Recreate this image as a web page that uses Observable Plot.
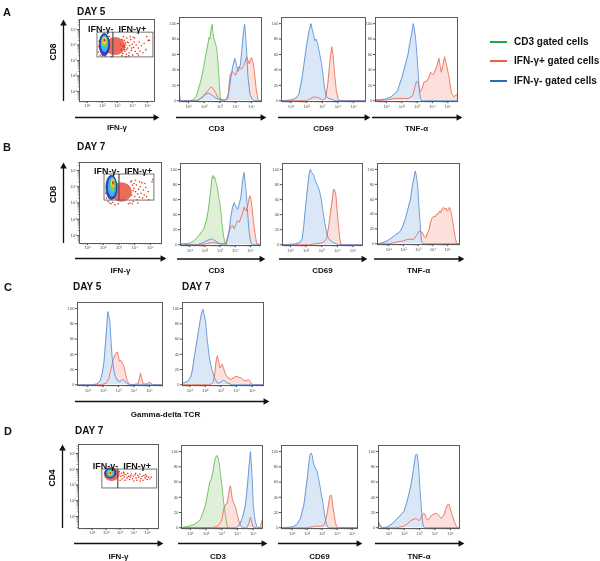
<!DOCTYPE html>
<html><head><meta charset="utf-8">
<script src="https://cdn.jsdelivr.net/npm/d3@7"></script>
<script src="https://cdn.jsdelivr.net/npm/@observablehq/plot@0.6"></script>
<style>
html,body{margin:0;padding:0;background:#fff;}
#fig{position:relative;width:600px;height:561px;overflow:hidden;font-family:'Liberation Sans',Arial,Helvetica,sans-serif;color:#111;background:#fff;}
.t{position:absolute;font-weight:bold;line-height:1;white-space:nowrap;}
.sw{position:absolute;height:2px;width:17px;}
</style></head><body><div id="fig"></div>
<script>
const FONT = "'Liberation Sans', Arial, Helvetica, sans-serif";

// ---------- tick labels / categories ----------
const decades = [1, 2, 3, 4, 5];
const SUP = {1: "¹", 2: "²", 3: "³", 4: "⁴", 5: "⁵"};
const countTicks = [0, 20, 40, 60, 80, 100];
const markerTitles = ["CD3", "CD69", "TNF-α"];
const gateLabels = ["IFN-γ-", "IFN-γ+"];
const legendLabels = ["CD3 gated cells", "IFN-γ+ gated cells", "IFN-γ- gated cells"];
const legendKeys = ["green", "red", "blue"];

// ---------- histogram series: [log10 intensity, % of max] ----------
// Panel A (day 5)
const a_cd3_green = [[1.0,0],[1.3,1],[1.5,6],[1.76,24],[1.95,42],[2.08,57],[2.2,70],[2.3,82],[2.36,80],[2.43,92],[2.5,99],[2.55,88],[2.6,82],[2.7,75],[2.78,69],[2.86,52],[2.93,31],[3.0,8],[3.03,2],[3.1,0]];
const a_cd3_red = [[0.43,10],[0.46,2],[0.55,0],[1.5,0],[1.66,1],[1.9,6],[2.15,11],[2.3,15],[2.44,18],[2.55,16],[2.7,11],[2.85,5],[3.0,2],[3.3,1],[3.5,3],[3.63,33],[3.78,38],[3.9,35],[3.99,33],[4.1,40],[4.2,44],[4.35,41],[4.52,46],[4.69,57],[4.78,52],[4.86,48],[4.93,53],[5.0,56],[5.08,50],[5.15,42],[5.3,14],[5.42,0],[5.63,0]];
const a_cd3_blue = [[0.43,0],[1.5,0],[1.8,3],[2.05,8],[2.25,10],[2.45,8],[2.7,4],[3.0,1],[3.4,1],[3.55,10],[3.67,27],[3.8,44],[3.94,55],[4.05,46],[4.15,38],[4.22,42],[4.3,48],[4.38,65],[4.45,82],[4.56,99],[4.62,86],[4.67,70],[4.77,31],[4.9,8],[5.04,2],[5.15,0],[5.63,0]];
const a_cd69_blue = [[0.4,0],[1.0,1],[1.3,3],[1.5,8],[1.7,28],[1.85,50],[2.0,72],[2.15,90],[2.28,100],[2.36,92],[2.46,84],[2.52,78],[2.6,80],[2.7,74],[2.82,62],[2.95,48],[3.05,32],[3.15,15],[3.25,6],[3.4,3],[3.6,2],[3.8,0],[5.75,0]];
const a_cd69_red = [[0.4,0],[2.0,0],[2.25,3],[2.5,5],[2.75,4],[3.0,1],[3.2,3],[3.35,22],[3.48,50],[3.6,70],[3.68,60],[3.78,35],[3.9,12],[4.0,3],[4.1,0],[5.75,0]];
const a_tnf_blue = [[0.28,2],[0.5,1],[0.9,2],[1.3,5],[1.7,12],[2.0,30],[2.2,45],[2.4,60],[2.55,78],[2.65,88],[2.74,100],[2.8,95],[2.9,80],[2.98,60],[3.06,38],[3.13,15],[3.2,4],[3.3,0],[5.63,0]];
const a_tnf_red = [[0.28,0],[1.0,1],[1.5,3],[2.0,3],[2.4,3],[2.7,6],[2.85,18],[2.95,25],[3.05,24],[3.2,12],[3.3,15],[3.44,24],[3.66,26],[3.8,32],[3.88,37],[4.0,34],[4.1,35],[4.27,44],[4.42,55],[4.5,45],[4.57,37],[4.7,48],[4.79,57],[4.92,46],[5.07,31],[5.23,10],[5.4,5],[5.57,8],[5.63,6]];
// Panel B (day 7)
const b_cd3_green = [[0.39,1],[1.0,2],[1.26,5],[1.6,12],[1.92,21],[2.1,32],[2.25,50],[2.38,72],[2.47,89],[2.53,92],[2.58,88],[2.64,90],[2.69,85],[2.8,78],[2.92,62],[3.02,50],[3.12,28],[3.24,10],[3.35,1],[3.45,0]];
const b_cd3_red = [[0.39,0],[1.8,0],[2.2,2],[2.5,3],[2.8,2],[3.2,1],[3.4,3],[3.55,15],[3.7,23],[3.82,26],[3.93,21],[4.05,28],[4.15,32],[4.27,30],[4.37,36],[4.48,42],[4.58,50],[4.66,46],[4.73,45],[4.85,55],[4.95,65],[5.02,62],[5.1,50],[5.2,30],[5.3,15],[5.4,2],[5.66,0]];
const b_cd3_blue = [[0.39,0],[1.5,0],[1.9,3],[2.2,6],[2.45,8],[2.7,5],[3.0,1],[3.4,1],[3.55,12],[3.7,36],[3.82,50],[3.93,56],[4.05,50],[4.15,47],[4.27,55],[4.37,63],[4.48,85],[4.58,96],[4.66,80],[4.73,67],[4.82,40],[4.9,19],[5.0,5],[5.1,0],[5.66,0]];
const b_cd69_blue = [[0.49,0],[1.3,1],[1.6,3],[1.75,8],[1.85,25],[1.96,50],[2.1,78],[2.2,95],[2.27,100],[2.35,96],[2.48,93],[2.6,84],[2.7,80],[2.78,76],[2.86,71],[2.95,62],[3.05,48],[3.2,28],[3.32,15],[3.43,8],[3.6,5],[3.75,3],[3.95,1],[4.07,0],[5.6,0]];
const b_cd69_red = [[0.49,0],[2.2,0],[2.5,1],[2.9,2],[3.1,3],[3.3,8],[3.45,25],[3.55,41],[3.68,62],[3.76,74],[3.83,72],[3.9,66],[3.98,45],[4.07,24],[4.15,8],[4.22,0],[5.6,0]];
const b_tnf_blue = [[0.23,0],[0.5,1],[0.9,4],[1.34,10],[1.79,17],[1.95,24],[2.13,34],[2.3,47],[2.47,60],[2.6,78],[2.69,87],[2.8,98],[2.88,90],[2.96,78],[3.03,55],[3.1,34],[3.21,4],[3.3,0],[5.8,0]];
const b_tnf_red = [[0.23,0],[1.0,0],[1.5,2],[2.0,4],[2.3,6],[2.7,6],[2.9,12],[3.06,17],[3.18,16],[3.28,15],[3.4,10],[3.5,8],[3.62,14],[3.73,19],[3.85,30],[3.95,35],[4.05,37],[4.15,36],[4.22,39],[4.35,40],[4.45,44],[4.52,42],[4.62,47],[4.72,49],[4.8,46],[4.9,48],[4.97,44],[5.05,46],[5.12,49],[5.2,44],[5.3,35],[5.44,17],[5.52,8],[5.6,0],[5.8,0]];
// Panel C (gamma-delta TCR)
const c5_blue = [[0.33,0],[1.3,0],[1.6,1],[1.8,5],[1.94,15],[2.05,30],[2.15,55],[2.25,82],[2.3,96],[2.37,90],[2.43,83],[2.5,60],[2.58,35],[2.7,18],[2.8,10],[2.95,5],[3.08,4],[3.2,6],[3.3,7],[3.4,5],[3.51,2],[3.7,0],[5.85,0]];
const c5_red = [[0.33,0],[1.9,0],[2.2,2],[2.36,8],[2.5,20],[2.65,33],[2.78,40],[2.91,43],[2.98,38],[3.05,31],[3.15,32],[3.25,28],[3.35,24],[3.45,14],[3.55,6],[3.65,2],[3.8,0],[4.25,1],[4.35,8],[4.42,15],[4.5,8],[4.6,1],[4.85,1],[4.96,3],[5.1,2],[5.2,0],[5.85,0]];
const c7_blue = [[0.53,2],[0.7,3],[0.9,5],[1.05,10],[1.15,18],[1.3,38],[1.48,61],[1.6,76],[1.69,88],[1.78,96],[1.84,99],[1.92,92],[2.01,83],[2.1,62],[2.23,39],[2.35,25],[2.44,18],[2.6,8],[2.78,2],[2.95,3],[3.15,6],[3.3,4],[3.45,2],[3.7,0],[5.72,0]];
const c7_red = [[0.53,0],[2.3,0],[2.5,3],[2.6,15],[2.68,30],[2.76,38],[2.85,30],[2.93,22],[3.0,24],[3.08,27],[3.18,20],[3.3,13],[3.45,9],[3.62,7],[3.8,9],[3.95,11],[4.1,10],[4.28,9],[4.45,6],[4.6,5],[4.75,7],[4.85,5],[4.95,1],[5.05,0],[5.72,0]];
// Panel D (CD4, day 7)
const d_cd3_green = [[0.43,0],[0.9,2],[1.21,4],[1.45,7],[1.64,11],[1.8,20],[1.96,30],[2.1,45],[2.23,60],[2.32,63],[2.44,74],[2.52,85],[2.59,91],[2.65,94],[2.7,95],[2.76,92],[2.8,89],[2.9,72],[3.02,52],[3.12,32],[3.23,16],[3.3,6],[3.36,1],[3.45,0]];
const d_cd3_red = [[0.43,0],[2.4,0],[2.7,2],[2.9,6],[3.02,12],[3.12,25],[3.22,30],[3.34,32],[3.42,42],[3.5,52],[3.55,55],[3.6,48],[3.66,38],[3.75,33],[3.87,27],[3.97,18],[4.08,9],[4.2,3],[4.3,0],[4.6,0],[4.72,6],[4.82,14],[4.9,7],[4.98,1],[5.2,0],[5.45,0],[5.52,6],[5.59,12]];
const d_cd3_blue = [[0.43,0],[3.9,0],[4.05,2],[4.18,6],[4.29,12],[4.4,20],[4.5,30],[4.58,45],[4.65,60],[4.74,82],[4.82,100],[4.88,85],[4.94,60],[5.0,30],[5.08,15],[5.14,8],[5.22,2],[5.3,0],[5.59,0]];
const d_cd69_blue = [[0.29,0],[1.0,1],[1.3,4],[1.55,12],[1.78,30],[1.9,48],[2.0,64],[2.1,82],[2.18,95],[2.27,98],[2.33,95],[2.4,87],[2.5,80],[2.6,76],[2.67,74],[2.75,65],[2.84,56],[2.95,43],[3.07,30],[3.15,18],[3.22,10],[3.3,4],[3.4,0],[5.35,0]];
const d_cd69_red = [[0.29,0],[2.0,0],[2.3,1],[2.6,2],[2.9,2],[3.1,3],[3.22,9],[3.33,19],[3.42,30],[3.51,41],[3.57,43],[3.62,42],[3.7,30],[3.78,19],[3.87,8],[3.95,2],[4.05,0],[5.35,0]];
const d_tnf_blue = [[0.33,8],[0.45,3],[0.6,0],[0.9,1],[1.2,5],[1.55,12],[1.97,21],[2.15,32],[2.3,44],[2.45,58],[2.58,74],[2.66,86],[2.73,95],[2.8,97],[2.84,96],[2.9,86],[2.95,74],[3.0,56],[3.06,39],[3.12,22],[3.17,10],[3.23,3],[3.3,0],[5.58,0]];
const d_tnf_red = [[0.33,5],[0.45,1],[0.6,0],[1.5,0],[1.97,2],[2.2,5],[2.4,9],[2.58,11],[2.75,12],[2.85,11],[2.95,9],[3.05,12],[3.18,17],[3.25,19],[3.33,18],[3.42,13],[3.5,10],[3.62,12],[3.72,15],[3.83,17],[3.95,18],[4.05,19],[4.15,18],[4.28,15],[4.4,12],[4.5,15],[4.58,17],[4.68,24],[4.8,30],[4.9,31],[4.97,26],[5.05,20],[5.15,14],[5.25,8],[5.35,3],[5.45,0],[5.58,0]];

// ---------- dot plots: gates [x1,x2,y1,y2] (log10), density levels outer->inner, dense cloud, scattered events ----------
const a_gates = [[1.67,2.73,3.2,4.8],[2.73,5.4,3.2,4.8]];
const a_levels = [[1.82,2.5,3.28,4.72],[1.92,2.42,3.52,4.6],[1.98,2.36,3.84,4.55],[2.04,2.3,4.03,4.48],[2.1,2.23,4.16,4.39]];
const a_dense = [[2.2,3.55,3.32,4.48]];
const a_events = [[3.3,4.35],[3.35,3.45],[3.4,3.9],[3.45,4.3],[3.5,3.6],[3.55,4.0],[3.6,3.4],[3.62,4.45],[3.68,3.8],[3.72,4.15],[3.78,3.5],[3.82,3.95],[3.88,4.35],[3.92,3.65],[3.98,4.05],[4.02,3.35],[4.08,3.85],[4.12,4.2],[4.18,3.6],[4.25,4.0],[4.3,3.45],[4.38,3.8],[4.45,4.2],[4.5,3.6],[4.6,3.95],[4.7,3.5],[4.78,4.1],[4.9,3.7],[5.05,4.3],[5.13,4.3],[4.95,4.55],[3.4,4.55],[3.3,3.3],[3.58,3.25],[3.85,4.55],[4.15,4.45],[4.4,3.35],[3.5,3.85],[3.65,4.2],[3.75,3.3],[3.95,3.8],[4.05,4.5],[3.38,3.95],[3.25,3.7],[3.2,4.05],[3.45,3.7],[3.52,4.15],[3.6,3.7],[1.75,3.9],[1.72,3.55],[1.78,4.25],[1.85,3.35],[2.0,3.3],[2.2,3.28],[2.6,3.25],[2.45,4.55]];
const b_gates = [[2.08,3.03,3.15,4.75],[3.03,5.25,3.15,4.75]];
const b_levels = [[2.2,2.9,3.18,4.67],[2.33,2.84,3.35,4.59],[2.46,2.78,3.66,4.51],[2.52,2.73,3.97,4.45],[2.59,2.71,4.08,4.34]];
const b_dense = [[2.5,3.85,3.05,4.25]];
const b_events = [[3.95,3.9],[4.0,3.4],[4.05,3.7],[4.1,4.1],[4.15,3.2],[4.2,3.55],[4.25,3.85],[4.3,3.35],[4.35,4.0],[4.4,3.6],[4.5,3.3],[4.55,3.8],[4.6,3.5],[4.7,3.95],[4.75,3.4],[4.85,3.7],[5.1,4.3],[5.15,4.45],[3.9,3.1],[3.8,4.35],[4.05,4.4],[3.85,2.95],[4.2,3.0],[4.45,4.25],[2.2,3.3],[2.15,3.6],[2.3,3.1],[2.4,3.0],[2.6,3.05],[2.5,2.95],[3.7,3.0],[3.75,4.3],[4.9,3.2],[4.65,4.2],[3.95,4.2],[4.3,4.3],[3.8,3.5],[3.9,3.75],[3.85,4.1],[3.6,2.95],[2.75,2.9],[2.95,2.95]];
const d_gates = [[1.72,2.87,2.78,3.98],[2.87,5.68,2.78,3.98]];
const d_levels = [[1.94,2.73,3.42,4.05],[2.04,2.62,3.48,3.98],[2.15,2.51,3.54,3.92],[2.22,2.44,3.6,3.86],[2.26,2.4,3.67,3.79]];
const d_dense = [[1.86,3.0,3.22,4.08]];
const d_events = [[3.05,3.55],[3.1,3.75],[3.15,3.4],[3.2,3.6],[3.25,3.8],[3.3,3.5],[3.35,3.3],[3.42,3.65],[3.5,3.45],[3.55,3.75],[3.6,3.55],[3.68,3.35],[3.75,3.6],[3.82,3.7],[3.9,3.4],[3.95,3.55],[4.0,3.25],[4.08,3.65],[4.15,3.45],[4.2,3.3],[4.28,3.6],[4.35,3.5],[4.42,3.7],[4.5,3.4],[4.58,3.55],[4.65,3.3],[4.72,3.6],[4.8,3.45],[4.9,3.55],[4.95,3.35],[5.05,3.5],[5.15,3.4],[5.25,3.5],[3.0,3.3],[3.3,3.7],[3.72,3.5],[4.12,3.75],[4.45,3.25],[4.85,3.65],[2.95,3.85]];

// ---------- styles ----------
const LINE = {green: "#6cbf5a", red: "#ec6e58", blue: "#5c92d6"};
const FILL = {green: "#e0f0d8", red: "#fbe0db", blue: "#dae7f7"};
const LEGEND_COLORS = {green: "#1fa84a", red: "#f0603e", blue: "#2c6bb3"};
const LEVEL_COLORS = ["#2a4bd0", "#3cb8ec", "#7cd04a", "#f3de2c", "#e5331d"];
const EVENT_COLOR = "#e8321c";
const INK = "#111";

const fig = document.getElementById("fig");
function place(node, left, top) {
  node.style.position = "absolute";
  node.style.left = left + "px";
  node.style.top = top + "px";
  fig.appendChild(node);
}
function label(text, left, centerY, size) {
  const d = document.createElement("div");
  d.className = "t";
  d.textContent = text;
  d.style.fontSize = size + "px";
  place(d, left, centerY - 0.49 * size);
}
function minorTicks(dom) {
  const out = [];
  for (let d = 0; d <= 5; d++) for (let k = 1; k <= 9; k++) {
    const v = d + Math.log10(k);
    if (v >= dom[0] && v <= dom[1]) out.push(v);
  }
  return out;
}
const supFmt = d => "10" + SUP[d];

function xArrow(ymin, dy, extL, extR) {
  return [
    Plot.ruleY([ymin], {dy, insetLeft: -extL, insetRight: -extR, stroke: INK, strokeWidth: 1.3}),
    Plot.dot([0], {frameAnchor: "bottom-right", dx: extR, dy, symbol: "triangle", r: 2.5, rotate: 90, fill: INK})
  ];
}
function xTitle(t, dy, dx = 0) {
  return Plot.text([t], {frameAnchor: "bottom", dx, dy, text: d => d, lineAnchor: "middle", fontSize: 8, fontWeight: "bold", fill: INK, fontFamily: FONT});
}

function hist(p) {
  const [L, T, R, B] = p.frame;
  const ml = 14, mt = 3, mr = p.mr ?? 4, mb = 36;
  const ydom = [-1, 108];
  const marks = [];
  for (const s of p.series) marks.push(Plot.areaY(s.data, {x: d => d[0], y: d => d[1], fill: FILL[s.c], mixBlendMode: "multiply", curve: "linear", clip: true}));
  for (const s of p.series) marks.push(Plot.lineY(s.data, {x: d => d[0], y: d => d[1], stroke: LINE[s.c], strokeWidth: 0.9, curve: "linear", clip: true}));
  marks.push(Plot.frame({stroke: "#4d4d4d", strokeWidth: 0.9}));
  marks.push(Plot.axisX(minorTicks(p.xdom), {tickSize: 1.4, tickFormat: () => "", label: null, stroke: "#555", strokeWidth: 0.6}));
  marks.push(Plot.axisX(decades.filter(d => d >= p.xdom[0] && d <= p.xdom[1]), {tickSize: 2.2, tickPadding: 0.8, tickFormat: supFmt, fontSize: 4.3, fill: "#555", stroke: "#555", label: null, fontFamily: FONT}));
  marks.push(Plot.axisY(countTicks, {tickSize: 2, tickPadding: 1, fontSize: 4.3, fill: "#555", stroke: "#555", label: null, fontFamily: FONT}));
  if (p.arrowDy) marks.push(...xArrow(ydom[0], p.arrowDy, p.extL ?? 3, p.extR ?? 1));
  if (p.title) marks.push(xTitle(p.title, p.titleDy, p.titleDx ?? 0));
  const svg = Plot.plot({
    width: (R - L) + ml + mr, height: (B - T) + mt + mb,
    marginLeft: ml, marginRight: mr, marginTop: mt, marginBottom: mb,
    style: {background: "transparent", overflow: "visible", fontFamily: FONT},
    x: {domain: p.xdom}, y: {domain: ydom},
    marks
  });
  place(svg, L - ml, T - mt);
}

function dotPlot(p) {
  const [L, T, R, B] = p.frame;
  const ml = 34, mt = 3, mr = 4, mb = 36;
  const rect = (data, o) => Plot.rect(data, {x1: d => d[0], x2: d => d[1], y1: d => d[2], y2: d => d[3], ...o});
  const marks = [
    Plot.frame({stroke: "#4d4d4d", strokeWidth: 0.9}),
    Plot.axisX(minorTicks(p.xdom), {tickSize: 1.3, tickFormat: () => "", label: null, stroke: "#555", strokeWidth: 0.6}),
    Plot.axisX(decades, {tickSize: 2, tickPadding: 0.8, tickFormat: supFmt, fontSize: 4.3, fill: "#555", stroke: "#555", label: null, fontFamily: FONT}),
    Plot.axisY(minorTicks(p.ydom), {tickSize: 1.3, tickFormat: () => "", label: null, stroke: "#555", strokeWidth: 0.6}),
    Plot.axisY(decades, {tickSize: 2, tickPadding: 0.8, tickFormat: supFmt, fontSize: 4.3, fill: "#555", stroke: "#555", label: null, fontFamily: FONT}),
    rect(p.dense, {fill: EVENT_COLOR, fillOpacity: 0.72, rx: 100, ry: 100}),
    Plot.dot(p.events, {x: d => d[0], y: d => d[1], r: 0.8, fill: EVENT_COLOR}),
    ...p.levels.map((lv, i) => rect([lv], {fill: LEVEL_COLORS[i], rx: 100, ry: 100, stroke: i === 0 ? "#1c2a88" : "none", strokeWidth: 0.8})),
    rect(p.gates, {fill: "none", stroke: "#555", strokeWidth: 0.8}),
    Plot.text([p.gates[0]], {x: d => d[1], y: d => d[3], text: () => gateLabels[0], textAnchor: "end", lineAnchor: "middle", dy: -3.5, fontSize: 9, fontWeight: "bold", fill: INK, fontFamily: FONT}),
    Plot.text([p.gates[1]], {x: d => d[0], y: d => d[3], text: () => gateLabels[1], textAnchor: "start", lineAnchor: "middle", dx: 5, dy: -3.5, fontSize: 9, fontWeight: "bold", fill: INK, fontFamily: FONT}),
    ...xArrow(p.ydom[0], p.arrowDy, 4, 1),
    Plot.ruleX([p.xdom[0]], {dx: -16, insetTop: 5, stroke: INK, strokeWidth: 1.3}),
    Plot.dot([0], {frameAnchor: "top-left", dx: -16, dy: 4, symbol: "triangle", r: 2.5, fill: INK}),
    xTitle("IFN-γ", p.titleDy),
    Plot.text([p.ytitle], {frameAnchor: "left", dx: -26, rotate: -90, text: d => d, lineAnchor: "middle", fontSize: 8.5, fontWeight: "bold", fill: INK, fontFamily: FONT})
  ];
  const svg = Plot.plot({
    width: (R - L) + ml + mr, height: (B - T) + mt + mb,
    marginLeft: ml, marginRight: mr, marginTop: mt, marginBottom: mb,
    style: {background: "transparent", overflow: "visible", fontFamily: FONT},
    x: {domain: p.xdom}, y: {domain: p.ydom},
    marks
  });
  place(svg, L - ml, T - mt);
}

// ---------- panel A ----------
dotPlot({frame: [79, 19, 154, 101], xdom: [0.47, 5.47], ydom: [0.35, 5.65], gates: a_gates, levels: a_levels, dense: a_dense, events: a_events, ytitle: "CD8", arrowDy: 16, titleDy: 26});
hist({frame: [179, 17, 261, 101], xdom: [0.43, 5.63], series: [{c: "green", data: a_cd3_green}, {c: "red", data: a_cd3_red}, {c: "blue", data: a_cd3_blue}], title: markerTitles[0], arrowDy: 16, titleDy: 27, titleDx: -4});
hist({frame: [281, 17, 365, 101], xdom: [0.4, 5.75], series: [{c: "red", data: a_cd69_red}, {c: "blue", data: a_cd69_blue}], title: markerTitles[1], arrowDy: 16, titleDy: 27});
hist({frame: [375, 17, 457, 101], xdom: [0.28, 5.63], series: [{c: "red", data: a_tnf_red}, {c: "blue", data: a_tnf_blue}], title: markerTitles[2], arrowDy: 16, titleDy: 27});
// ---------- panel B ----------
dotPlot({frame: [79, 162, 161, 243], xdom: [0.49, 5.7], ydom: [0.51, 5.49], gates: b_gates, levels: b_levels, dense: b_dense, events: b_events, ytitle: "CD8", arrowDy: 15, titleDy: 27});
hist({frame: [180, 163, 260, 245], xdom: [0.39, 5.66], series: [{c: "green", data: b_cd3_green}, {c: "red", data: b_cd3_red}, {c: "blue", data: b_cd3_blue}], title: markerTitles[0], arrowDy: 13.5, titleDy: 25, titleDx: -4});
hist({frame: [282, 163, 362, 245], xdom: [0.49, 5.6], series: [{c: "red", data: b_cd69_red}, {c: "blue", data: b_cd69_blue}], title: markerTitles[1], arrowDy: 13.5, titleDy: 25});
hist({frame: [377, 163, 459, 244], xdom: [0.23, 5.8], series: [{c: "red", data: b_tnf_red}, {c: "blue", data: b_tnf_blue}], title: markerTitles[2], arrowDy: 14.5, titleDy: 26});
// ---------- panel C ----------
hist({frame: [77, 302, 162, 385], xdom: [0.33, 5.85], series: [{c: "red", data: c5_red}, {c: "blue", data: c5_blue}], mr: 110, title: "Gamma-delta TCR", arrowDy: 16, extL: 2, extR: 103, titleDy: 28.5, titleDx: 45.5});
hist({frame: [182, 302, 263, 385], xdom: [0.53, 5.72], series: [{c: "red", data: c7_red}, {c: "blue", data: c7_blue}]});
// ---------- panel D ----------
dotPlot({frame: [78, 444, 158, 528], xdom: [0, 5.77], ydom: [0.24, 5.57], gates: d_gates, levels: d_levels, dense: d_dense, events: d_events, ytitle: "CD4", arrowDy: 15, titleDy: 28});
hist({frame: [181, 445, 262, 528], xdom: [0.43, 5.59], series: [{c: "green", data: d_cd3_green}, {c: "red", data: d_cd3_red}, {c: "blue", data: d_cd3_blue}], title: markerTitles[0], arrowDy: 15, titleDy: 28, titleDx: -4});
hist({frame: [281, 445, 357, 528], xdom: [0.29, 5.35], series: [{c: "red", data: d_cd69_red}, {c: "blue", data: d_cd69_blue}], title: markerTitles[1], arrowDy: 15, titleDy: 28});
hist({frame: [378, 445, 459, 528], xdom: [0.33, 5.58], series: [{c: "red", data: d_tnf_red}, {c: "blue", data: d_tnf_blue}], title: markerTitles[2], arrowDy: 15, titleDy: 28});

// ---------- letters and day labels ----------
label("A", 3, 12, 11); label("DAY 5", 77, 12, 10);
label("B", 3, 147, 11); label("DAY 7", 77, 147, 10);
label("C", 4, 287, 11); label("DAY 5", 73, 287, 10); label("DAY 7", 182, 287, 10);
label("D", 4, 431, 11); label("DAY 7", 75, 431, 10);

// ---------- legend ----------
const legendY = [42, 61, 81];
legendLabels.forEach((t, i) => {
  const sw = document.createElement("div");
  sw.className = "sw";
  sw.style.background = LEGEND_COLORS[legendKeys[i]];
  place(sw, 490, legendY[i] - 1);
  label(t, 514, legendY[i], 10);
});
</script></body></html>
